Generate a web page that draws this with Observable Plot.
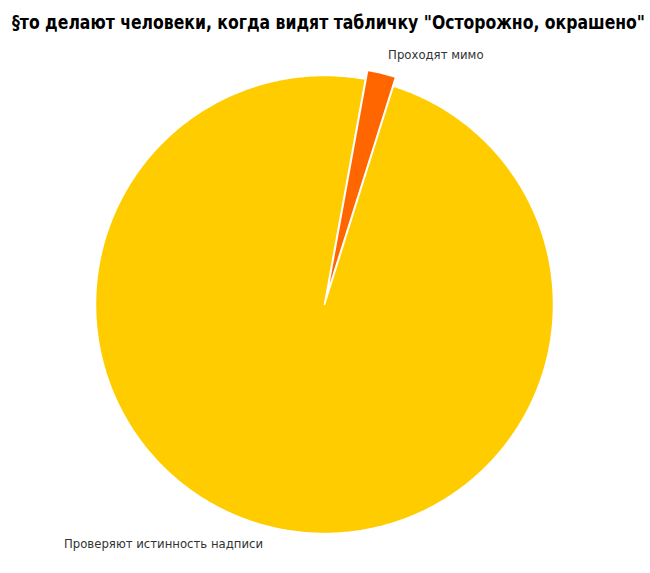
<!DOCTYPE html>
<html>
<head>
<meta charset="utf-8">
<script src="https://cdn.jsdelivr.net/npm/d3@7"></script>
<script src="https://cdn.jsdelivr.net/npm/@observablehq/plot@0.6"></script>
<style>
  html, body { margin: 0; padding: 0; background: #fff; }
  #title { height: 40px; box-sizing: border-box; padding-top: 12px; padding-left: 12px; overflow: visible; }
  #title span { display: inline-block; transform-origin: 0 50%;
    font-family: "Liberation Sans Narrow", "DejaVu Sans Condensed", "DejaVu Sans", sans-serif;
    font-weight: bold; font-size: 19px; color: #000; white-space: nowrap; line-height: 20px; }
  svg { display: block; }
</style>
</head>
<body>
<div id="title"><span></span></div>
<div id="chart"></div>
<script>
const titleText = '§то делают человеки, когда видят табличку "Осторожно, окрашено"';
const categories = ["Проверяют истинность надписи", "Проходят мимо"];
const values = [98, 2];
const colors = ["#FFCC00", "#FF6600"];
const explode = [0, 0.04];

const span = document.querySelector("#title span");
span.textContent = titleText;
const targetW = 633;
const w0 = span.getBoundingClientRect().width;
if (w0 > 0) span.style.transform = `scaleX(${targetW / w0})`;

const W = 650, H = 533, R = 229, cx = 324, cy = 264;
const start = 17.5 * Math.PI / 180;
const arcs = d3.pie().sort(null).startAngle(start).endAngle(start + 2 * Math.PI)(values);

const pts = [];
const labels = [];
arcs.forEach((a, i) => {
  const mid = (a.startAngle + a.endAngle) / 2;
  const ox = explode[i] * Math.sin(mid), oy = explode[i] * Math.cos(mid);
  const n = Math.max(4, Math.ceil((a.endAngle - a.startAngle) / (Math.PI / 360)));
  pts.push({cat: categories[i], x: ox, y: oy});
  for (let k = 0; k <= n; k++) {
    const t = a.startAngle + (a.endAngle - a.startAngle) * k / n;
    pts.push({cat: categories[i], x: ox + Math.sin(t), y: oy + Math.cos(t)});
  }
  pts.push({cat: categories[i], x: ox, y: oy});
  const lr = i === 0 ? 1.08 : 1.12;
  labels.push({cat: categories[i], x: lr * Math.sin(mid), y: lr * Math.cos(mid),
               anchor: Math.sin(mid) < 0 ? "end" : "start"});
});

const chart = Plot.plot({
  width: W, height: H,
  margin: 0,
  x: {domain: [-cx / R, (W - cx) / R], axis: null},
  y: {domain: [-(H - cy) / R, cy / R], axis: null},
  color: {domain: categories, range: colors},
  style: {background: "#fff"},
  marks: [
    Plot.line(pts, {x: "x", y: "y", z: "cat", fill: "cat", stroke: "#fff", strokeWidth: 1.5, strokeLinejoin: "round", curve: "linear"}),
    Plot.text(labels.filter(d => d.anchor === "end"), {x: "x", y: "y", text: "cat", textAnchor: "end", dx: -2, fontSize: 11.7, fill: "#333", fontFamily: "DejaVu Sans"}),
    Plot.text(labels.filter(d => d.anchor === "start"), {x: "x", y: "y", text: "cat", textAnchor: "start", dx: 2, fontSize: 11.7, fill: "#333", fontFamily: "DejaVu Sans"})
  ]
});
document.getElementById("chart").appendChild(chart);
</script>
</body>
</html>
